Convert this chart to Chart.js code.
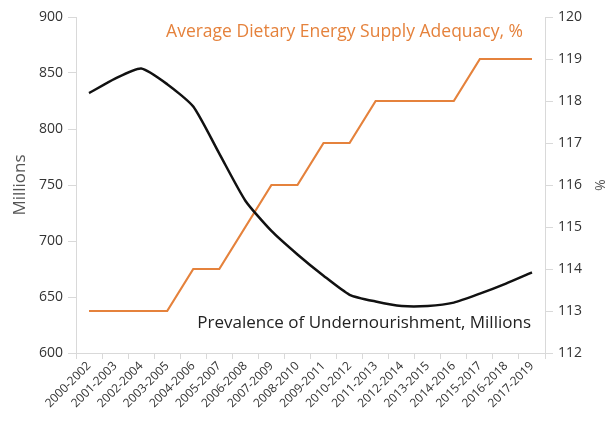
<!DOCTYPE html>
<html>
<head>
<meta charset="utf-8">
<script src="https://cdn.jsdelivr.net/npm/chart.js@4"></script>
<style>
  html, body { margin: 0; padding: 0; background: #fff; }
  #wrap { width: 611px; height: 424px; position: relative; }
</style>
</head>
<body>
<div id="wrap"><canvas id="c"></canvas></div>
<script>
// Zeiträume (3-Jahres-Mittel)
var periods = ['2000-2002', '2001-2003', '2002-2004', '2003-2005', '2004-2006', '2005-2007',
  '2006-2008', '2007-2009', '2008-2010', '2009-2011', '2010-2012', '2011-2013', '2012-2014',
  '2013-2015', '2014-2016', '2015-2017', '2016-2018', '2017-2019'];
// Unterernährung, Millionen (linke Achse)
var undernourished = [832, 845, 854, 840, 820, 778, 736, 709, 688, 669, 652, 646, 642, 642, 645, 653, 662, 672];
// Energieversorgung, % (rechte Achse)
var adequacy = [113, 113, 113, 113, 114, 114, 115, 116, 116, 117, 117, 118, 118, 118, 118, 119, 119, 119];

var ORANGE = '#e5823c', INK = '#111', AXIS = '#d9d9d9', FONT = '"Open Sans", Lato, sans-serif';

// Beschriftungen direkt im Diagramm
var labels = {
  id: 'labels',
  afterDatasetsDraw: function (chart) {
    var ctx = chart.ctx, a = chart.chartArea;
    ctx.save();
    ctx.textAlign = 'right'; ctx.textBaseline = 'middle';
    ctx.font = '17.5px ' + FONT;
    ctx.fillStyle = ORANGE;
    ctx.fillText('Average Dietary Energy Supply Adequacy, %', a.right - 22, 32);
    ctx.fillStyle = '#222';
    ctx.font = '17px ' + FONT;
    ctx.fillText('Prevalence of Undernourishment, Millions', a.right - 14, 323);
    ctx.restore();
  }
};

new Chart(document.getElementById('c').getContext('2d'), {
  type: 'line',
  data: {
    labels: periods,
    datasets: [
      { label: 'Undernourishment', data: undernourished, yAxisID: 'y', borderColor: INK, borderWidth: 2.5, pointRadius: 0, tension: 0.2, fill: false },
      { label: 'Adequacy', data: adequacy, yAxisID: 'y1', borderColor: ORANGE, borderWidth: 2.2, pointRadius: 0, tension: 0, fill: false },
    ],
  },
  options: {
    responsive: true, maintainAspectRatio: false, animation: false,
    layout: { padding: { top: 17, left: 0, right: 0, bottom: 0 } },
    plugins: { legend: { display: false }, tooltip: { enabled: false } },
    scales: {
      x: {
        offset: true,
        grid: { display: true, drawOnChartArea: false, color: AXIS, tickLength: 6, offset: true },
        border: { color: AXIS },
        ticks: { maxRotation: 45, minRotation: 45, color: '#333', font: { family: FONT, size: 12 }, padding: 0, autoSkip: false },
        afterFit: function (s) { s.height = 71; },
      },
      y: {
        position: 'left', min: 600, max: 900,
        grid: { display: true, drawOnChartArea: false, color: AXIS, tickLength: 8 },
        border: { color: AXIS },
        ticks: { stepSize: 50, color: '#333', font: { family: FONT, size: 14 }, padding: 5 },
        title: { display: true, text: 'Millions', color: '#555', font: { family: FONT, size: 17 }, padding: { top: 10, bottom: 0 } },
        afterFit: function (s) { s.width = 76; },
      },
      y1: {
        position: 'right', min: 112, max: 120,
        grid: { display: true, drawOnChartArea: false, color: AXIS, tickLength: 8 },
        border: { color: AXIS },
        ticks: { stepSize: 1, color: '#333', font: { family: FONT, size: 14 }, padding: 5 },
        title: { display: true, text: '%', color: '#555', font: { family: FONT, size: 14 }, padding: { top: 4, bottom: 0 } },
        afterFit: function (s) { s.width = 66; },
      },
    },
  },
  plugins: [labels],
});
</script>
</body>
</html>
